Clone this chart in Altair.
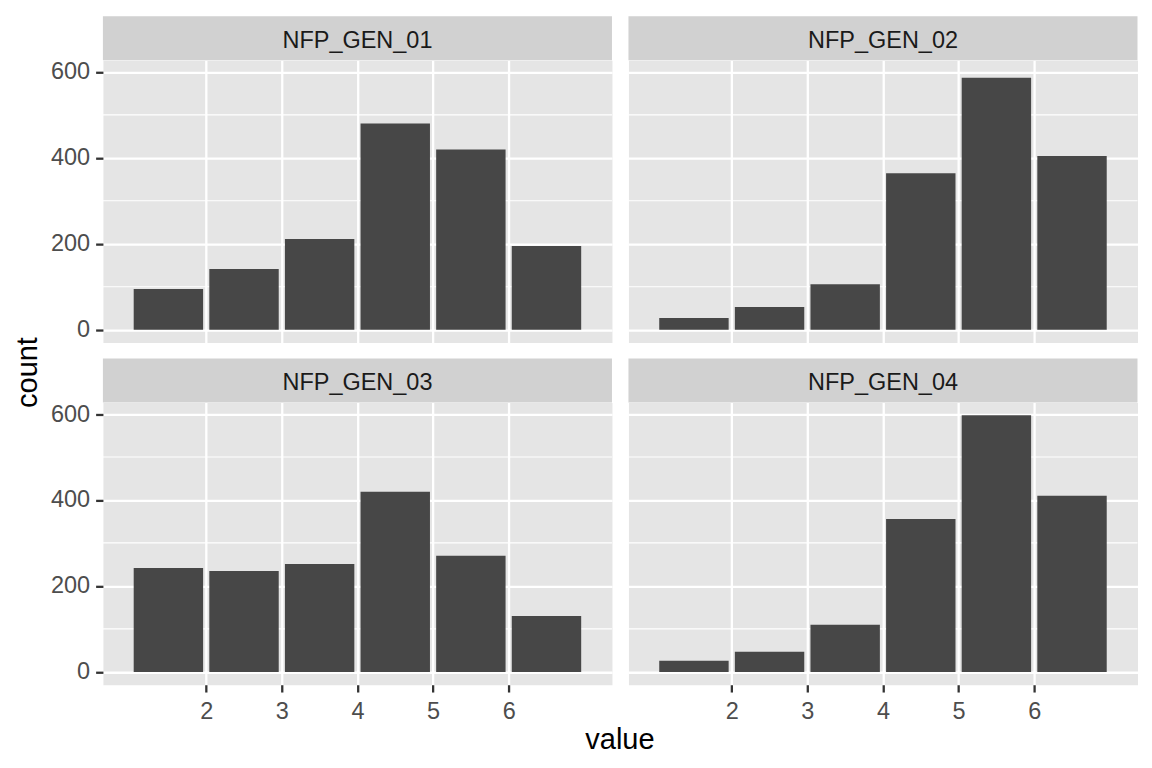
import altair as alt
import pandas as pd

# ---- data ----
panels = ["NFP_GEN_01", "NFP_GEN_02", "NFP_GEN_03", "NFP_GEN_04"]
bin_mid = [1.5, 2.5, 3.5, 4.5, 5.5, 6.5]
counts_01 = [95, 141, 211, 480, 419, 195]
counts_02 = [27, 53, 106, 364, 586, 404]
counts_03 = [242, 235, 251, 419, 270, 130]
counts_04 = [26, 47, 110, 356, 597, 410]
x_ticks = [2, 3, 4, 5, 6]
y_ticks = [0, 200, 400, 600]
y_minor = [100, 300, 500]
x_title = "value"
y_title = "count"

# ---- style ----
FONT = "Liberation Sans"
BAR = "#474747"
PANEL = "#E5E5E5"
STRIP = "#D1D1D1"
W = 509.5
H = 282.5
STRIP_H = 44
X_DOM = [0.7, 7.3]
Y_DOM = [-29.85, 626.85]
BAR_PX = 0.9 * W / (X_DOM[1] - X_DOM[0])

xs = alt.Scale(domain=X_DOM, nice=False, zero=False)
ys = alt.Scale(domain=Y_DOM, nice=False, zero=False)


def make_panel(name, counts, show_x, show_y, with_titles=False):
    df = pd.DataFrame({"mid": bin_mid, "count": counts})
    df_minor = pd.DataFrame({"v": y_minor})
    df_strip = pd.DataFrame({"label": [name]})

    xaxis = alt.Axis(values=x_ticks, grid=True, labels=show_x, ticks=show_x,
                     domain=False, title=None)
    yaxis = alt.Axis(values=y_ticks, grid=True, labels=show_y, ticks=show_y,
                     domain=False, title=None)

    minor = alt.Chart(df_minor).mark_rule(color="white", strokeWidth=1.2).encode(
        y=alt.Y("v:Q", scale=ys, axis=yaxis)
    )
    bars = alt.Chart(df).mark_bar(color=BAR, size=BAR_PX, orient="vertical").encode(
        x=alt.X("mid:Q", scale=xs, axis=xaxis),
        y=alt.Y("count:Q", scale=ys, axis=yaxis),
        y2=alt.datum(0),
    )
    strip_rect = alt.Chart(df_strip).mark_rect(color=STRIP).encode(
        x=alt.value(0), x2=alt.value(W), y=alt.value(-STRIP_H), y2=alt.value(0)
    )
    strip_text = alt.Chart(df_strip).mark_text(
        font=FONT, fontSize=23.5, color="#1A1A1A", align="center", baseline="alphabetic"
    ).encode(x=alt.value(W / 2), y=alt.value(-12.3), text="label:N")

    layers = [minor, bars, strip_rect, strip_text]
    if with_titles:
        df_y = pd.DataFrame({"label": [y_title]})
        df_x = pd.DataFrame({"label": [x_title]})
        ytxt = alt.Chart(df_y).mark_text(
            font=FONT, fontSize=29, color="black", angle=270,
            align="center", baseline="alphabetic"
        ).encode(x=alt.value(-66), y=alt.value(-30), text="label:N")
        xtxt = alt.Chart(df_x).mark_text(
            font=FONT, fontSize=29, color="black", align="center", baseline="alphabetic"
        ).encode(x=alt.value(517.5), y=alt.value(347), text="label:N")
        layers += [ytxt, xtxt]
    return alt.layer(*layers).properties(width=W, height=H)


p1 = make_panel(panels[0], counts_01, show_x=False, show_y=True)
p2 = make_panel(panels[1], counts_02, show_x=False, show_y=False)
p3 = make_panel(panels[2], counts_03, show_x=True, show_y=True, with_titles=True)
p4 = make_panel(panels[3], counts_04, show_x=True, show_y=False)

chart = alt.concat(
    p1, p2, p3, p4, columns=2, spacing={"row": 59.5, "column": 16}, bounds="flush"
).properties(
    padding={"left": 5, "top": 7, "right": 5, "bottom": 5}
).configure_view(
    fill=PANEL, stroke="transparent"
).configure_axis(
    labelFont=FONT, labelFontSize=23.5, labelColor="#4D4D4D",
    gridColor="white", gridWidth=2.3, gridOpacity=1,
    tickColor="#333333", tickWidth=2.3, tickSize=7.3,
)

chart = chart.configure_axisX(labelPadding=7).configure_axisY(labelPadding=6)

chart.save("out.html", embed_options={"renderer": "svg", "actions": False})
